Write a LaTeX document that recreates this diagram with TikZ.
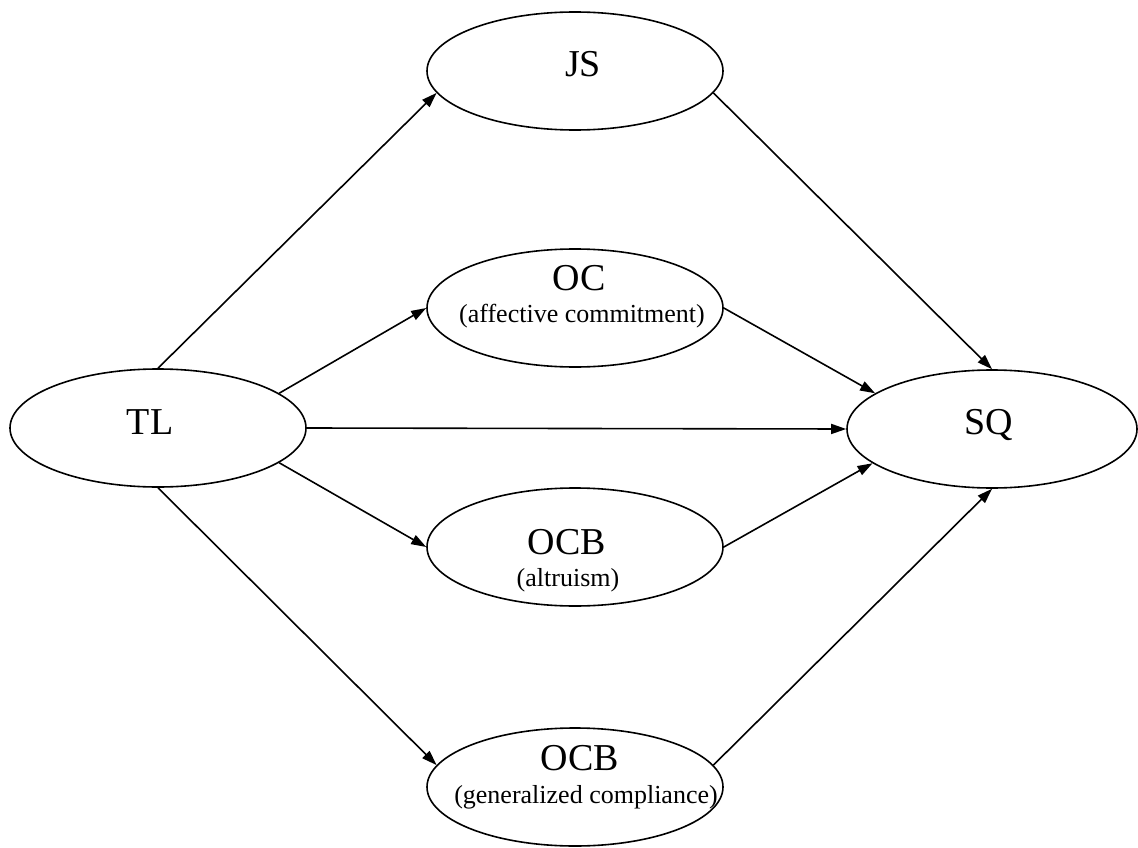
\documentclass[tikz,border=0pt]{standalone}
\usepackage{fontspec}
\setmainfont{Liberation Serif}
\usetikzlibrary{arrows.meta,shapes.geometric}
\begin{document}
\begin{tikzpicture}[x=1pt,y=-1pt,
 ell/.style={draw, line width=1.6pt, ellipse, minimum width=296pt, minimum height=118pt, inner sep=0pt},
 big/.style={font=\fontsize{38}{38}\selectfont, inner sep=0pt, anchor=base},
 small/.style={font=\fontsize{26}{26}\selectfont, inner sep=0pt, anchor=base},
 arr/.style={line width=1.6pt, -{Triangle[length=15pt,width=10pt]}}]
\fill[white] (0,0) rectangle (1138,848);
\useasboundingbox (0,0) rectangle (1138,848);

\node[ell] (TL) at (158,428) {};
\node[ell] (JS) at (575,71) {};
\node[ell] (OC) at (575,308) {};
\node[ell, minimum width=290pt] (SQ) at (992,429) {};
\node[ell] (OCBa) at (575,547) {};
\node[ell] (OCBg) at (575,787) {};

\node[big] (TLt) at (150,434) {TL};
\node[big] (SQt) at (989,434) {SQ};
\node[big] (JSt) at (583,77) {JS};
\node[big] (OCt) at (579,290) {OC};
\node[small] (OCs) at (582,322.5) {(affective commitment)};
\node[big] (OCBat) at (567,554) {OCB};
\node[small] (OCBas) at (568,586.5) {(altruism)};
\node[big] (OCBgt) at (580,770) {OCB};
\node[small] (OCBgs) at (586,803.5) {(generalized compliance)};

\draw[arr] (TL.north) -- (JS.189);
\draw[arr] (TL.16.6) -- (OC.west);
\draw[arr] (TL.east) -- (SQ.west);
\draw[arr] (TL.-16.6) -- (OCBa.west);
\draw[arr] (TL.south) -- (OCBg.171);
\draw[arr] (JS.-9) -- (SQ.north);
\draw[arr] (OC.east) -- (SQ.163.4);
\draw[arr] (OCBa.east) -- (SQ.196.6);
\draw[arr] (OCBg.9) -- (SQ.south);
\end{tikzpicture}
\end{document}
